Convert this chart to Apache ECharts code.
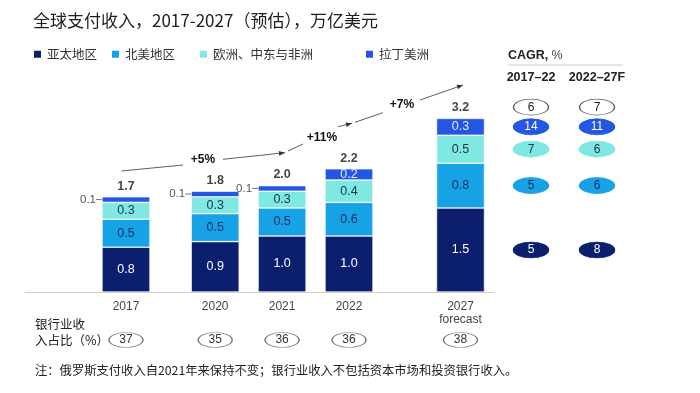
<!DOCTYPE html>
<html><head><meta charset="utf-8">
<script src="https://cdn.jsdelivr.net/npm/echarts@6/dist/echarts.min.js"></script>
<style>html,body{margin:0;padding:0;background:#fff}#c{width:700px;height:393px}</style>
</head><body><div id="c"></div>
<script>
// ---- data ----
const yearLabels = ['2017','2020','2021','2022','2027\nforecast'];
const apac = [0.8,0.9,1.0,1.0,1.5];
const northAmerica = [0.5,0.5,0.5,0.6,0.8];
const emea = [0.3,0.3,0.3,0.4,0.5];
const latam = [0.1,0.1,0.1,0.2,0.3];
const totals = [1.7,1.8,2.0,2.2,3.2];
const bankShare = [37,35,36,36,38];
const cagrPeriods = ['2017–22','2022–27F'];
const cagrTotal = [6,7];
const cagrLatam = [14,11];
const cagrEmea = [7,6];
const cagrNA = [5,6];
const cagrApac = [5,8];
const growth = ['+5%','+11%','+7%'];
const seriesNames = ['亚太地区','北美地区','欧洲、中东与非洲','拉丁美洲'];

// ---- layout/style ----
const colors = ['#0c1f6f','#17a2e6','#80e8e2','#2456e4'];
const FONT = '"Liberation Sans","Noto Sans CJK SC",sans-serif';
const CJK = '"Noto Sans CJK SC","Liberation Sans",sans-serif';
const SLOTS = 21;
const slotOf = [4,8,11,14,19];
const cats = Array.from({length:SLOTS},(_,i)=>'c'+i);
const labelMap = {};
slotOf.forEach((s,i)=>labelMap[s]=yearLabels[i]);
function expand(arr, fn){ const out = Array(SLOTS).fill('-'); slotOf.forEach((s,i)=>{out[s] = fn ? fn(arr[i], i) : arr[i];}); return out; }
const GRID_L = 25.65, GRID_W = 468.3, GRID_T = 96, GRID_H = 196, YMAX = 3.5;

const stacks = [apac, northAmerica, emea, latam];
const labelColors = ['#ffffff','#12306a','#15334f','#e4eaff'];

const barSeries = stacks.map((arr, k) => ({
  name: seriesNames[k], type:'bar', stack:'total', barWidth:48,
  xAxisIndex:0, yAxisIndex:0,
  itemStyle:{color:colors[k], borderColor:'#fff', borderWidth:0.6},
  label:{show:true, position:'inside', fontSize:12.5, fontFamily:FONT, color:labelColors[k],
    formatter: p => Number(p.value).toFixed(1)},
  data: expand(arr, (v) => (k === 3 && v < 0.15) ? {
      value: v,
      label:{position:'left', distance:0, color:'#555', fontSize:11,
        formatter: p => '{a|' + Number(p.value).toFixed(1) + '}{b|}',
        rich:{a:{fontSize:11.5, color:'#555', fontFamily:FONT}, b:{width:6, height:1, backgroundColor:'#777', verticalAlign:'middle'}}}
    } : v)
}));

const sums = apac.map((_,i)=> stacks.reduce((s,a)=>s+a[i],0));
const totalSeries = {
  type:'scatter', xAxisIndex:0, yAxisIndex:0, symbolSize:1, itemStyle:{color:'rgba(0,0,0,0)'},
  label:{show:true, position:'top', distance:4, fontSize:12.5, fontWeight:'bold', color:'#111', fontFamily:FONT,
    formatter: p => p.data.total.toFixed(1)},
  data: expand(sums, (v,i)=>({value:v, total: totals[i]}))
};

const bankSeries = {
  type:'scatter', xAxisIndex:1, yAxisIndex:1, symbol:'circle', symbolSize:[34,15],
  itemStyle:{color:'#fff', borderColor:'#777', borderWidth:1, opacity:1},
  label:{show:true, position:'inside', fontSize:12, color:'#333', fontFamily:FONT, formatter: p => p.value[2]},
  data: slotOf.map((s,i)=>[s,0,bankShare[i]])
};

// CAGR rows aligned with 2027 segments
const last = apac.length - 1;
let cum = 0; const mids = [];
stacks.forEach(a => { mids.push(cum + a[last]/2); cum += a[last]; });
const cagrRows = [
  {vals:cagrApac, y:mids[0], fill:colors[0], text:'#fff', border:colors[0]},
  {vals:cagrNA, y:mids[1], fill:colors[1], text:'#12306a', border:colors[1]},
  {vals:cagrEmea, y:mids[2], fill:colors[2], text:'#15334f', border:colors[2]},
  {vals:cagrLatam, y:mids[3], fill:colors[3], text:'#fff', border:colors[3]},
  {vals:cagrTotal, y:cum + 0.2, fill:'#fff', text:'#222', border:'#666'}
];
const cagrSeries = cagrRows.map(r => ({
  type:'scatter', xAxisIndex:2, yAxisIndex:2, symbol:'circle', symbolSize:[35,16],
  itemStyle:{color:r.fill, borderColor:r.border, borderWidth:1, opacity:1},
  label:{show:true, position:'inside', fontSize:12, color:r.text, fontFamily:FONT, formatter: p => p.value[2]},
  data: r.vals.map((v,i)=>[i, r.y, v])
}));

// growth annotation arrows
const LC = '#333';
function seg(x1,y1,x2,y2){ return {type:'line', shape:{x1,y1,x2,y2}, style:{stroke:LC, lineWidth:0.8}}; }
function head(x1,y1,x2,y2){
  const a = Math.atan2(y2-y1, x2-x1), L = 6, W = 2.4;
  const bx = x2 - L*Math.cos(a), by = y2 - L*Math.sin(a);
  return {type:'polygon', shape:{points:[[x2,y2],[bx+W*Math.sin(a), by-W*Math.cos(a)],[bx-W*Math.sin(a), by+W*Math.cos(a)]]}, style:{fill:LC}};
}
function txt(x,y,text,opt){ return {type:'text', x, y, style:Object.assign({text, fill:'#222', fontSize:12, fontFamily:CJK, align:'left', verticalAlign:'middle'}, opt||{})}; }

const graphics = [
  seg(121.5,171,183,165), seg(223,159.3,285,152.7), head(223,159.3,285,152.7),
  seg(288,151,303,144), seg(338,126.7,352,123.3), head(338,126.7,352,123.3),
  seg(355,122.3,383,112.7), seg(420,100,463,85), head(420,100,463,85),
  txt(203,159.3,growth[0],{align:'center', fontWeight:'bold', fontSize:12, fill:'#111', fontFamily:FONT}),
  txt(322,137.5,growth[1],{align:'center', fontWeight:'bold', fontSize:12, fill:'#111', fontFamily:FONT}),
  txt(402,105,growth[2],{align:'center', fontWeight:'bold', fontSize:12, fill:'#111', fontFamily:FONT}),
  {type:'text', x:508, y:56, style:{text:'{a|CAGR,} {b|%}', fontFamily:FONT, verticalAlign:'middle',
    rich:{a:{fontSize:12.5, fontWeight:'bold', fill:'#222', fontFamily:FONT}, b:{fontSize:12.5, fill:'#444', fontFamily:FONT}}}},
  {type:'line', shape:{x1:508,y1:65,x2:623,y2:65}, style:{stroke:'#ccc', lineWidth:1}},
  {type:'text', x:35, y:316, style:{text:'银行业收\n入占比（%）', fill:'#222', fontSize:12.5, lineHeight:16, fontFamily:CJK}},
  txt(35,370,'注：俄罗斯支付收入自2021年来保持不变；银行业收入不包括资本市场和投资银行收入。',{fontSize:12.3})
];

const legends = [32,110,198,364].map((left,k)=>({
  data:[seriesNames[k]], left, top:48, padding:0, icon:'rect', itemWidth:9, itemHeight:9, itemGap:0,
  selectedMode:false, textStyle:{fontSize:12.5, color:'#333', fontFamily:CJK}
}));

const chart = echarts.init(document.getElementById('c'), null, {renderer:'canvas'});
chart.setOption({
  animation:false,
  color: colors,
  title:{text:'全球支付收入，2017-2027（预估），万亿美元', left:33, top:12, padding:0,
    textStyle:{fontSize:17, fontWeight:'normal', color:'#1e1e1e', fontFamily:CJK}},
  legend: legends,
  grid:[
    {left:GRID_L, width:GRID_W, top:GRID_T, height:GRID_H},
    {left:GRID_L, width:GRID_W, top:332, height:16},
    {left:498, width:132, top:GRID_T, height:GRID_H}
  ],
  xAxis:[
    {type:'category', gridIndex:0, data:cats, axisTick:{show:false},
      axisLine:{lineStyle:{color:'#ccc', width:1}},
      axisLabel:{interval:0, formatter:(v,i)=>labelMap[i]||'', color:'#444', fontSize:12, margin:8, lineHeight:13, fontFamily:FONT}},
    {type:'category', gridIndex:1, data:cats, show:false},
    {type:'category', gridIndex:2, data:cagrPeriods, position:'top', axisLine:{show:false}, axisTick:{show:false},
      axisLabel:{interval:0, showMinLabel:true, showMaxLabel:true, fontSize:12.5, fontWeight:'bold', color:'#222', margin:12, fontFamily:FONT}}
  ],
  yAxis:[
    {type:'value', gridIndex:0, min:0, max:YMAX, show:false},
    {type:'category', gridIndex:1, data:['r'], show:false},
    {type:'value', gridIndex:2, min:0, max:YMAX, show:false}
  ],
  graphic: graphics,
  series: [...barSeries, totalSeries, bankSeries, ...cagrSeries]
});
</script></body></html>
